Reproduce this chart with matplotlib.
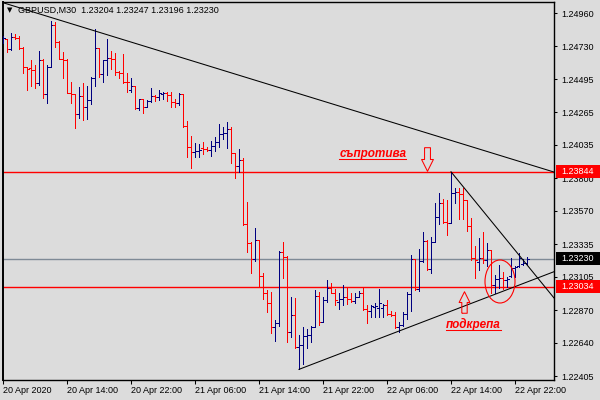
import matplotlib
matplotlib.use("Agg")
import matplotlib.pyplot as plt
import matplotlib.transforms as mtransforms
import numpy as np
import pandas as pd
from matplotlib.collections import LineCollection
from matplotlib.lines import Line2D
from matplotlib.patches import Ellipse, Rectangle
from matplotlib.path import Path

plt.rcParams["font.family"] = ["Liberation Sans", "DejaVu Sans"]

SYMBOL = "GBPUSD,M30"
START = "2020-04-20 06:00"   # first visible M30 bar

# OHLC per 30-minute bar
opens = [
    1.24767, 1.24779, 1.24707, 1.24791, 1.24786, 1.24716, 1.24580, 1.24575, 1.24564, 1.24467,
    1.24631, 1.24392, 1.24580, 1.24876, 1.24760, 1.24636, 1.24631, 1.24401, 1.24392, 1.24249,
    1.24378, 1.24302, 1.24350, 1.24502, 1.24714, 1.24533, 1.24631, 1.24645, 1.24636, 1.24549,
    1.24542, 1.24476, 1.24420, 1.24448, 1.24291, 1.24354, 1.24298, 1.24343, 1.24378, 1.24373,
    1.24392, 1.24399, 1.24385, 1.24335, 1.24331, 1.24392, 1.24166, 1.24016, 1.23981, 1.23990,
    1.24011, 1.24002, 1.23997, 1.24025, 1.24056, 1.24110, 1.24119, 1.24143, 1.23974, 1.23885,
    1.23927, 1.23476, 1.23340, 1.23227, 1.23363, 1.23110, 1.22988, 1.22922, 1.22752, 1.22781,
    1.23281, 1.23246, 1.22717, 1.22835, 1.22607, 1.22624, 1.22687, 1.22692, 1.22752, 1.22971,
    1.22788, 1.22941, 1.23023, 1.22992, 1.22926, 1.22945, 1.22960, 1.22945, 1.22936, 1.22964,
    1.22992, 1.22877, 1.22863, 1.22891, 1.22884, 1.22884, 1.22905, 1.22842, 1.22835, 1.22752,
    1.22764, 1.22842, 1.22983, 1.23227, 1.23016, 1.23217, 1.23358, 1.23157, 1.23351, 1.23523,
    1.23626, 1.23492, 1.23481, 1.23696, 1.23701, 1.23687, 1.23645, 1.23462, 1.23234, 1.23208,
    1.23236, 1.23222, 1.23293, 1.23046, 1.23086, 1.23093, 1.23081, 1.23110, 1.23164, 1.23180,
    1.23191, 1.23204,
]
highs = [
    1.24803, 1.24779, 1.24819, 1.24815, 1.24800, 1.24726, 1.24584, 1.24631, 1.24596, 1.24695,
    1.24636, 1.24596, 1.24906, 1.24901, 1.24767, 1.24690, 1.24636, 1.24478, 1.24392, 1.24443,
    1.24471, 1.24450, 1.24509, 1.24848, 1.24714, 1.24631, 1.24777, 1.24697, 1.24679, 1.24556,
    1.24672, 1.24542, 1.24502, 1.24448, 1.24357, 1.24357, 1.24350, 1.24432, 1.24383, 1.24420,
    1.24406, 1.24406, 1.24406, 1.24354, 1.24397, 1.24392, 1.24204, 1.24096, 1.24045, 1.24040,
    1.24052, 1.24016, 1.24063, 1.24087, 1.24180, 1.24161, 1.24192, 1.24161, 1.23974, 1.24004,
    1.23939, 1.23633, 1.23351, 1.23450, 1.23363, 1.23133, 1.23011, 1.22999, 1.22800, 1.23288,
    1.23351, 1.23253, 1.22960, 1.22953, 1.22694, 1.22752, 1.22734, 1.22757, 1.23011, 1.22999,
    1.22960, 1.23081, 1.23058, 1.23016, 1.22988, 1.23046, 1.23023, 1.22992, 1.22988, 1.23006,
    1.23023, 1.22905, 1.22905, 1.22917, 1.23016, 1.22912, 1.22941, 1.22865, 1.22858, 1.22788,
    1.22858, 1.22999, 1.23257, 1.23227, 1.23298, 1.23422, 1.23363, 1.23386, 1.23626, 1.23692,
    1.23650, 1.23645, 1.23844, 1.23727, 1.23727, 1.23727, 1.23645, 1.23516, 1.23321, 1.23375,
    1.23422, 1.23340, 1.23293, 1.23117, 1.23187, 1.23140, 1.23100, 1.23234, 1.23180, 1.23270,
    1.23227, 1.23247,
]
lows = [
    1.24753, 1.24690, 1.24702, 1.24777, 1.24707, 1.24543, 1.24420, 1.24445, 1.24436, 1.24455,
    1.24366, 1.24326, 1.24580, 1.24721, 1.24636, 1.24502, 1.24397, 1.24331, 1.24150, 1.24221,
    1.24209, 1.24216, 1.24321, 1.24450, 1.24509, 1.24478, 1.24526, 1.24566, 1.24526, 1.24502,
    1.24467, 1.24408, 1.24408, 1.24284, 1.24279, 1.24256, 1.24298, 1.24338, 1.24345, 1.24350,
    1.24359, 1.24345, 1.24298, 1.24298, 1.24314, 1.24159, 1.23950, 1.23873, 1.23946, 1.23946,
    1.23969, 1.23992, 1.23957, 1.23992, 1.24021, 1.24073, 1.24009, 1.23908, 1.23802, 1.23844,
    1.23469, 1.23281, 1.23133, 1.23217, 1.23030, 1.22945, 1.22858, 1.22710, 1.22654, 1.22757,
    1.23098, 1.22647, 1.22682, 1.22600, 1.22452, 1.22490, 1.22600, 1.22643, 1.22750, 1.22764,
    1.22788, 1.22929, 1.22988, 1.22905, 1.22875, 1.22905, 1.22912, 1.22929, 1.22917, 1.22960,
    1.22870, 1.22781, 1.22823, 1.22823, 1.22819, 1.22823, 1.22835, 1.22828, 1.22741, 1.22717,
    1.22757, 1.22805, 1.22865, 1.23011, 1.23006, 1.23210, 1.23152, 1.23129, 1.23351, 1.23476,
    1.23485, 1.23398, 1.23481, 1.23626, 1.23509, 1.23509, 1.23429, 1.23222, 1.23093, 1.23152,
    1.23203, 1.23180, 1.22988, 1.22988, 1.23023, 1.23016, 1.23034, 1.23105, 1.23105, 1.23175,
    1.23187, 1.23196,
]
closes = [
    1.24784, 1.24707, 1.24791, 1.24786, 1.24716, 1.24580, 1.24566, 1.24564, 1.24467, 1.24631,
    1.24392, 1.24580, 1.24876, 1.24760, 1.24636, 1.24631, 1.24401, 1.24392, 1.24249, 1.24378,
    1.24302, 1.24350, 1.24502, 1.24714, 1.24533, 1.24631, 1.24645, 1.24636, 1.24549, 1.24542,
    1.24476, 1.24473, 1.24448, 1.24291, 1.24354, 1.24298, 1.24343, 1.24378, 1.24373, 1.24401,
    1.24399, 1.24385, 1.24335, 1.24331, 1.24392, 1.24166, 1.24016, 1.23981, 1.23990, 1.23997,
    1.24002, 1.23997, 1.24025, 1.24056, 1.24110, 1.24119, 1.24143, 1.23974, 1.23885, 1.23927,
    1.23476, 1.23340, 1.23227, 1.23363, 1.23110, 1.22988, 1.22922, 1.22752, 1.22781, 1.23281,
    1.23246, 1.22717, 1.22835, 1.22607, 1.22624, 1.22687, 1.22692, 1.22752, 1.22971, 1.22788,
    1.22941, 1.23023, 1.22992, 1.22941, 1.22945, 1.22960, 1.22945, 1.22936, 1.22964, 1.22992,
    1.22875, 1.22863, 1.22898, 1.22898, 1.22919, 1.22905, 1.22842, 1.22835, 1.22752, 1.22764,
    1.22842, 1.22983, 1.23227, 1.23016, 1.23217, 1.23358, 1.23157, 1.23351, 1.23523, 1.23626,
    1.23492, 1.23481, 1.23696, 1.23701, 1.23687, 1.23645, 1.23462, 1.23234, 1.23222, 1.23236,
    1.23222, 1.23293, 1.23046, 1.23086, 1.23093, 1.23081, 1.23091, 1.23164, 1.23171, 1.23234,
    1.23199, 1.23230,
]

resistance_level = 1.23844
support_level = 1.23034
price_ticks = [1.24960, 1.24730, 1.24495, 1.24265, 1.24035, 1.23800,
               1.23570, 1.23335, 1.23105, 1.22870, 1.22640, 1.22405]

# hand-drawn objects on the chart: (bar index, price)
upper_trend = [(0, 1.25035), (137.75, 1.23842)]
lower_trend = [(74, 1.22452), (137.75, 1.23140)]
wedge_trend = [(112, 1.23844), (137.75, 1.22955)]
circle_center = (124.25, 1.23071)
circle_size = (7.5, 0.00303)
down_arrow_at = (105.9, 1.23936)
up_arrow_at = (115.2, 1.22926)
resist_text_at = (84.1, 1.23948)
support_text_at = (110.75, 1.22740)

BG = "#DCDCDC"
UP = "#000080"
DOWN = "#FF0000"

fig = plt.figure(figsize=(6, 4), dpi=100, facecolor=BG)
ax = fig.add_axes([2.5 / 600, 20 / 400, 551.5 / 600, 378 / 400], facecolor=BG)

n = len(opens)
idx = np.arange(n)
o, h, l, c = (np.asarray(v) for v in (opens, highs, lows, closes))

segs, cols = [], []
for i in idx:
    col = UP if c[i] >= o[i] else DOWN
    segs.append([(i, l[i]), (i, h[i])])
    segs.append([(i - 0.45, o[i]), (i, o[i])])
    segs.append([(i, c[i]), (i + 0.45, c[i])])
    cols += [col] * 3
ax.add_collection(LineCollection(segs, colors=cols, linewidths=0.6,
                                 antialiased=False, zorder=3))

# levels
ax.axhline(resistance_level, color="red", lw=1.0, zorder=2)
ax.axhline(support_level, color="red", lw=1.0, zorder=2)
ax.axhline(closes[-1], color="#7F8A96", lw=1.0, zorder=1)

# trend lines
for line in (upper_trend, lower_trend, wedge_trend):
    xs, ys = zip(*line)
    ax.plot(xs, ys, color="black", lw=0.75, zorder=4)

ax.add_patch(Ellipse(circle_center, circle_size[0], circle_size[1],
                     fill=False, edgecolor="red", lw=0.8, zorder=5))

# hollow arrows
arrow_down = Path([(-0.25, 1), (0.25, 1), (0.25, 0), (0.5, 0), (0, -1),
                   (-0.5, 0), (-0.25, 0), (-0.25, 1)])
arrow_up = Path([(-0.25, -1), (0.25, -1), (0.25, 0), (0.5, 0), (0, 1),
                 (-0.5, 0), (-0.25, 0), (-0.25, -1)])
ax.plot(*down_arrow_at, marker=arrow_down, ms=17, mfc="none", mec="red", mew=0.75, zorder=5)
ax.plot(*up_arrow_at, marker=arrow_up, ms=15.5, mfc="none", mec="red", mew=0.75, zorder=5)

t1 = ax.text(*resist_text_at, "съпротива", color="red", fontsize=8.5,
             fontweight="bold", fontstyle="italic", va="baseline", ha="left", zorder=6)
t2 = ax.text(*support_text_at, "подкрепа", color="red", fontsize=8.5,
             fontweight="bold", fontstyle="italic", va="baseline", ha="left", zorder=6)

ax.set_xlim(-0.125, 137.75)
ax.set_ylim(1.22377, 1.25040)

# axes styling, MT4 look
times = pd.date_range(START, periods=n, freq="30min")
tick_idx = list(range(0, n, 16))
tick_lbl = [times[i].strftime("%d %b %Y") if i == 0 else times[i].strftime("%d %b %H:%M")
            for i in tick_idx]
ax.set_xticks(tick_idx)
ax.set_xticklabels(tick_lbl, ha="left")
ax.yaxis.tick_right()
ax.set_yticks(price_ticks)
ax.set_yticklabels([f"{p:.5f}" for p in price_ticks])
ax.tick_params(axis="x", direction="out", length=3, width=0.75, pad=1, labelsize=6.5)
ax.tick_params(axis="y", direction="out", length=2.5, width=0.75, pad=3, labelsize=6.5)
for side, sp in ax.spines.items():
    sp.set_color("black")
    sp.set_linewidth(1.0)
ax.spines["left"].set_linewidth(1.4)

# price boxes on the right scale
blend = mtransforms.blended_transform_factory(fig.transFigure, ax.transData)
box_h = 13 * (1.25040 - 1.22377) / 378
for price, face in ((resistance_level, "red"), (support_level, "red"), (closes[-1], "black")):
    ax.add_patch(Rectangle((555.5 / 600, price - box_h / 2), 44.5 / 600, box_h,
                           transform=blend, facecolor=face, edgecolor="none",
                           clip_on=False, zorder=10))
    ax.text(561 / 600, price, f"{price:.5f}", transform=blend, color="white",
            fontsize=6.5, va="center", ha="left", clip_on=False, zorder=11)

# header
fig.text(7 / 600, 1 - 10.5 / 400, "▼", family="DejaVu Sans", fontsize=5, va="center")
fig.text(18 / 600, 1 - 10.5 / 400,
         f"{SYMBOL}  {opens[-1]:.5f} {highs[-1]:.5f} {lows[-1]:.5f} {closes[-1]:.5f}",
         fontsize=6.5, va="center", ha="left")

# underline the two labels
fig.canvas.draw()
rend = fig.canvas.get_renderer()
inv = fig.transFigure.inverted()
for t in (t1, t2):
    bb = t.get_window_extent(rend)
    _, yb = ax.transData.transform(t.get_position())
    p0 = inv.transform((bb.x0, yb - 1.8))
    p1 = inv.transform((bb.x1, yb - 1.8))
    fig.add_artist(Line2D([p0[0], p1[0]], [p0[1], p1[1]], color="red", lw=0.75))

fig.savefig("out.png", dpi=100, facecolor=BG)
